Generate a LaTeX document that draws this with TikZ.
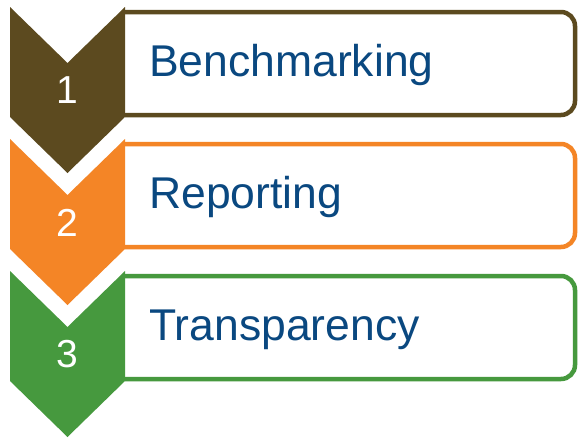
\documentclass[tikz,border=0pt]{standalone}
\usepackage{fontspec}
\setmainfont{Liberation Sans}
\definecolor{stepbrown}{RGB}{92,74,31}
\definecolor{steporange}{RGB}{244,133,38}
\definecolor{stepgreen}{RGB}{70,153,62}
\definecolor{stepblue}{RGB}{10,72,128}
\tikzset{
  stepbox/.style={line width=4.5pt,rounded corners=14pt},
  steplabel/.style={anchor=base west,inner sep=0pt,text=stepblue,
    font=\fontsize{44.5}{44.5}\selectfont},
  stepnum/.style={anchor=base,inner sep=0pt,text=white,
    font=\fontsize{39}{39}\selectfont}
}

\begin{document}
\begin{tikzpicture}[x=1pt,y=-1pt]
\fill[white] (0,0) rectangle (578,436);
% open boxes, starting at the chevrons' right edge
\draw[stepbox,draw=stepbrown]  (125,12) -| (575,115) -- (125,115);
\draw[stepbox,draw=steporange] (125,144) -| (575,247) -- (125,247);
\draw[stepbox,draw=stepgreen]  (125,276) -| (575,379) -- (125,379);
% chevrons
\fill[stepbrown]
  (10,7) --
  (67.5,63) --
  (125,7) --
  (125,117) --
  (67.5,173) --
  (10,117) --
  cycle;
\fill[steporange]
  (10,139) --
  (67.5,195) --
  (125,139) --
  (125,249) --
  (67.5,305) --
  (10,249) --
  cycle;
\fill[stepgreen]
  (10,271) --
  (67.5,327) --
  (125,271) --
  (125,381) --
  (67.5,437) --
  (10,381) --
  cycle;
% numbers and labels
\node[stepnum] (num1) at (67.5,103) {1};
\node[stepnum] (num2) at (67.5,236) {2};
\node[stepnum] (num3) at (67.5,367) {3};
\node[steplabel] (bench) at (149,76) {Benchmarking};
\node[steplabel] (report) at (149,208) {Reporting};
\node[steplabel] (transp) at (149,340) {Transparency};
\end{tikzpicture}
\end{document}
